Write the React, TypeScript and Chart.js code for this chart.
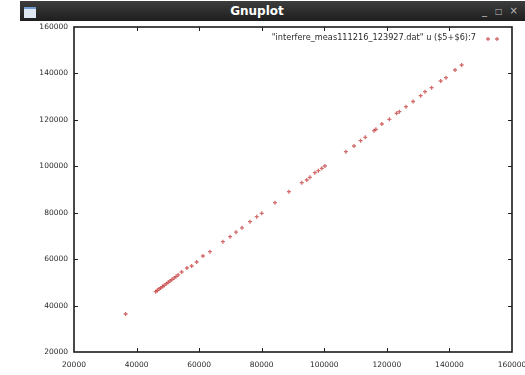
import React, { useEffect, useRef } from "react";
import { Chart, registerables } from "chart.js";

Chart.register(...registerables);

// ($5+$6) vs column 7 of the interference measurement file
const sumX = [
  36500, 46100, 46600, 47200, 47700, 48300, 48800, 49500, 50100, 50700, 51300,
  52000, 52600, 53300, 54400, 56100, 57600, 59200, 61200, 63450, 67600, 69900,
  71800, 73700, 76250, 78400, 80000, 84250, 88700, 92800, 94400, 95400, 97000,
  98100, 99200, 100200, 106900, 109500, 111600, 113100, 115900, 116500, 118400,
  120800, 123100, 124000, 126100, 128400, 130800, 132200, 134300, 137200,
  138900, 141800, 143900,
];
const col7 = [
  36370, 45980, 46500, 47150, 47600, 48200, 48700, 49400, 50000, 50600, 51200,
  51900, 52500, 53200, 54460, 56190, 57050, 58770, 61350, 63210, 67510, 69700,
  71600, 73500, 76130, 78280, 79750, 84310, 89050, 92920, 94090, 95260, 97240,
  98100, 99130, 100120, 106280, 108740, 111020, 112490, 115330, 115930, 118220,
  120240, 122830, 123510, 125670, 127900, 130410, 132130, 133850, 136740,
  138160, 141480, 143630,
];

const axisMin = 20000;
const axisMax = 160000;
const axisStep = 20000;
const seriesLabel = '"interfere_meas111216_123927.dat" u ($5+$6):7';

const POINT_COLOR = "rgba(192, 45, 45, 0.7)";
const TICK_FONT = { family: "DejaVu Sans", size: 7.5 };

function drawCross(ctx: CanvasRenderingContext2D, x: number, y: number) {
  ctx.beginPath();
  ctx.moveTo(x - 2, y);
  ctx.lineTo(x + 2, y);
  ctx.moveTo(x, y - 2);
  ctx.lineTo(x, y + 2);
  ctx.stroke();
}

// Border box, inward ticks on all four sides and the key in the top right
const framePlugin = {
  id: "gnuFrame",
  afterDraw(chart: any) {
    const { ctx, chartArea: a, scales } = chart;
    ctx.save();
    ctx.strokeStyle = "#1c1c1c";
    ctx.lineWidth = 1;
    const len = 4;
    scales.x.ticks.forEach((t: any) => {
      const px = Math.round(scales.x.getPixelForValue(t.value)) + 0.5;
      if (px <= a.left + 1 || px >= a.right - 1) return;
      ctx.beginPath();
      ctx.moveTo(px, a.bottom);
      ctx.lineTo(px, a.bottom - len);
      ctx.moveTo(px, a.top);
      ctx.lineTo(px, a.top + len);
      ctx.stroke();
    });
    scales.y.ticks.forEach((t: any) => {
      const py = Math.round(scales.y.getPixelForValue(t.value)) + 0.5;
      if (py <= a.top + 1 || py >= a.bottom - 1) return;
      ctx.beginPath();
      ctx.moveTo(a.left, py);
      ctx.lineTo(a.left + len, py);
      ctx.moveTo(a.right, py);
      ctx.lineTo(a.right - len, py);
      ctx.stroke();
    });
    ctx.lineWidth = 1.6;
    ctx.strokeRect(a.left, a.top, a.right - a.left, a.bottom - a.top);

    // key
    ctx.font = '8.2px "DejaVu Sans"';
    ctx.fillStyle = "#2a2a2a";
    ctx.textAlign = "right";
    ctx.textBaseline = "middle";
    ctx.fillText(seriesLabel, a.right - 36, a.top + 11);
    ctx.strokeStyle = POINT_COLOR;
    ctx.lineWidth = 1.3;
    drawCross(ctx, a.right - 24, a.top + 12);
    drawCross(ctx, a.right - 15, a.top + 12);
    ctx.restore();
  },
};

function GnuplotChart() {
  const ref = useRef<HTMLCanvasElement>(null);
  useEffect(() => {
    if (!ref.current) return;
    const chart = new Chart(ref.current, {
      type: "scatter",
      data: {
        datasets: [
          {
            label: seriesLabel,
            data: sumX.map((x, i) => ({ x, y: col7[i] })),
            pointStyle: "cross",
            pointRadius: 2,
            pointBorderWidth: 1.3,
            borderColor: POINT_COLOR,
            backgroundColor: POINT_COLOR,
          },
        ],
      },
      options: {
        animation: false,
        responsive: false,
        layout: { padding: { top: 27, right: 13, left: 0, bottom: 0 } },
        plugins: {
          legend: { display: false },
          tooltip: { enabled: false },
        },
        scales: {
          x: {
            type: "linear",
            min: axisMin,
            max: axisMax,
            grid: { display: false, drawTicks: false },
            border: { display: false },
            ticks: {
              stepSize: axisStep,
              autoSkip: false,
              maxRotation: 0,
              padding: 9,
              color: "#2a2a2a",
              font: TICK_FONT,
              callback: (v: any) => String(v),
            },
            afterFit: (s: any) => {
              s.height = 23;
              s.paddingLeft = 0;
              s.paddingRight = 0;
            },
          },
          y: {
            type: "linear",
            min: axisMin,
            max: axisMax,
            grid: { display: false, drawTicks: false },
            border: { display: false },
            ticks: {
              stepSize: axisStep,
              autoSkip: false,
              padding: 6,
              color: "#2a2a2a",
              font: TICK_FONT,
              callback: (v: any) => String(v),
            },
            afterFit: (s: any) => {
              s.width = 74;
            },
          },
        },
      },
      plugins: [framePlugin],
    });
    return () => chart.destroy();
  }, []);
  return <canvas ref={ref} width={525} height={375} style={{ display: "block" }} />;
}

function TitleBar() {
  return (
    <div
      style={{
        position: "absolute",
        left: 20,
        top: 1,
        width: 505,
        height: 20,
        background: "linear-gradient(#3d3d3d, #1e1e1e)",
        color: "#fff",
        fontFamily: '"DejaVu Sans", sans-serif',
      }}
    >
      <div
        style={{
          position: "absolute",
          left: 4,
          top: 6,
          width: 12,
          height: 9,
          background: "#dfe8f2",
          borderTop: "2px solid #6f9bd0",
        }}
      />
      <div
        style={{
          position: "absolute",
          left: 0,
          width: 474,
          top: 0,
          height: 20,
          lineHeight: "20px",
          textAlign: "center",
          fontSize: 12,
          fontWeight: "bold",
        }}
      >
        Gnuplot
      </div>
      <div
        style={{
          position: "absolute",
          left: 462,
          top: 0,
          height: 20,
          lineHeight: "20px",
          fontSize: 10,
          color: "#bdbdbd",
          whiteSpace: "nowrap",
          letterSpacing: 0,
        }}
      >
        <span style={{ marginRight: 8 }}>_</span>
        <span style={{ marginRight: 7, fontSize: 8 }}>□</span>
        <span>×</span>
      </div>
    </div>
  );
}

export default function App() {
  return (
    <div
      style={{
        position: "fixed",
        left: 0,
        top: 0,
        width: 525,
        height: 375,
        background: "#fff",
        overflow: "hidden",
      }}
    >
      <GnuplotChart />
      <TitleBar />
    </div>
  );
}
